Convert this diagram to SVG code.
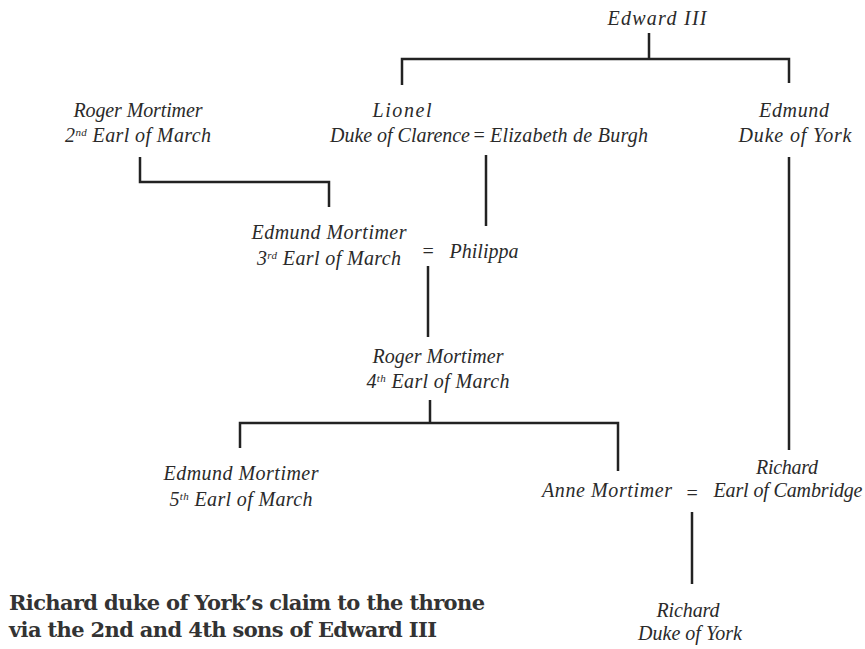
<svg xmlns="http://www.w3.org/2000/svg" width="865" height="649" viewBox="0 0 865 649">
<style>
.n{font-family:"Liberation Serif","Times New Roman",serif;font-style:italic;font-size:20px;fill:#2a2a2a;text-anchor:middle}
.s{font-size:11px}
.c{stroke:#222;stroke-width:2.5;fill:none}
.cap{font-family:"DejaVu Serif",serif;font-weight:bold;font-size:21px;fill:#333}
</style>
<rect width="865" height="649" fill="#fff"/>
<g id="connectors">
<path class="c" d="M649,33V59M402,85V59H789V83"/>
<path class="c" d="M140,157V182H329V207"/>
<path class="c" d="M486,155V226"/>
<path class="c" d="M428,266V337"/>
<path class="c" d="M430,400V423M240,448V423H618V471"/>
<path class="c" d="M789,157V450"/>
<path class="c" d="M692,512V584"/>
</g>
<g id="edward"><text class="n" x="657" y="25" textLength="99">Edward III</text></g>
<g id="lionel"><text class="n" x="402" y="117" textLength="59">Lionel</text><text class="n" x="400" y="142" textLength="140">Duke of Clarence</text></g>
<g id="eq1"><text class="n" x="479" y="142">=</text></g>
<g id="elizabeth"><text class="n" x="569" y="142" textLength="158">Elizabeth de Burgh</text></g>
<g id="edmund-york"><text class="n" x="794" y="117" textLength="70">Edmund</text><text class="n" x="795" y="142" textLength="113">Duke of York</text></g>
<g id="roger2"><text class="n" x="138" y="117" textLength="129">Roger Mortimer</text><text class="n" x="138" y="142" textLength="146">2<tspan class="s" dy="-6">nd</tspan><tspan dy="6"> Earl of March</tspan></text></g>
<g id="edmund3"><text class="n" x="329" y="239" textLength="155">Edmund Mortimer</text><text class="n" x="329" y="265" textLength="144">3<tspan class="s" dy="-6">rd</tspan><tspan dy="6"> Earl of March</tspan></text></g>
<g id="eq2"><text class="n" x="428" y="258">=</text></g>
<g id="philippa"><text class="n" x="484" y="258" textLength="69">Philippa</text></g>
<g id="roger4"><text class="n" x="438" y="363" textLength="131">Roger Mortimer</text><text class="n" x="438" y="388" textLength="143">4<tspan class="s" dy="-6">th</tspan><tspan dy="6"> Earl of March</tspan></text></g>
<g id="edmund5"><text class="n" x="241" y="480" textLength="155">Edmund Mortimer</text><text class="n" x="241" y="506" textLength="143">5<tspan class="s" dy="-6">th</tspan><tspan dy="6"> Earl of March</tspan></text></g>
<g id="anne"><text class="n" x="607" y="497" textLength="130">Anne Mortimer</text></g>
<g id="eq3"><text class="n" x="692" y="500">=</text></g>
<g id="richard-cambridge"><text class="n" x="787" y="474" textLength="62">Richard</text><text class="n" x="788" y="497" textLength="149">Earl of Cambridge</text></g>
<g id="richard-york"><text class="n" x="688" y="617" textLength="63">Richard</text><text class="n" x="690" y="640" textLength="104">Duke of York</text></g>
<g id="caption"><text class="cap" x="9" y="610" textLength="476">Richard duke of York’s claim to the throne</text><text class="cap" x="9" y="637" textLength="428">via the 2nd and 4th sons of Edward III</text></g>
</svg>
